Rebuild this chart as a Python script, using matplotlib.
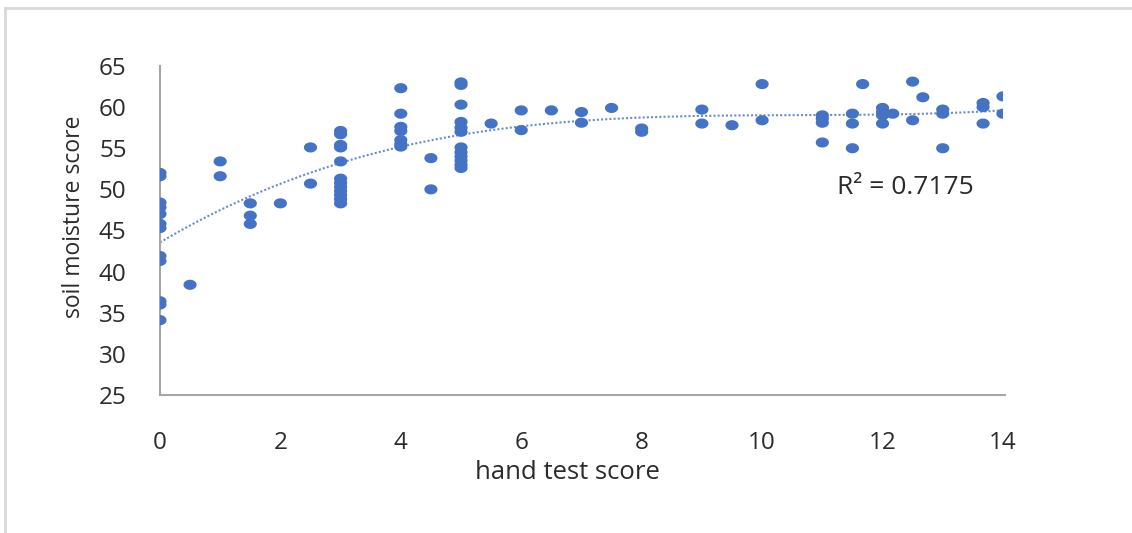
import matplotlib
matplotlib.use("Agg")
import matplotlib.pyplot as plt
import numpy as np
from matplotlib.lines import Line2D
from matplotlib.path import Path

# hand test score (x) and soil moisture score (y)
hand_score = (
    [0] * 12 + [0.5] + [1] * 2 + [1.5] * 3 + [2] + [2.5] * 2 + [3] * 12
    + [4] * 7 + [4.5] * 2 + [5] * 12 + [5.5] + [6] * 2 + [6.5] + [7] * 2
    + [7.5] + [8] * 2 + [9] * 2 + [9.5] + [10] * 2 + [11] * 4 + [11.5] * 3
    + [11.67] + [12] * 4 + [12.17] + [12.5] * 2 + [12.67] + [13] * 3
    + [13.67] * 3 + [14] * 2
)
soil_score = [
    52.0, 51.6, 48.4, 47.8, 47.0, 45.8, 45.3, 41.9, 41.3, 36.4, 36.0, 34.1,
    38.4,
    53.4, 51.6,
    48.3, 46.8, 45.8,
    48.3,
    55.1, 50.7,
    57.1, 56.7, 55.4, 55.1, 53.4, 51.3, 50.8, 50.3, 49.8, 49.3, 48.8, 48.3,
    62.3, 59.2, 57.6, 57.1, 56.0, 55.5, 55.2,
    53.8, 50.0,
    63.0, 62.7, 60.3, 58.2, 57.5, 57.0, 55.1, 54.5, 54.0, 53.5, 53.0, 52.6,
    58.0,
    59.6, 57.2,
    59.6,
    59.4, 58.1,
    59.9,
    57.4, 57.0,
    59.7, 58.0,
    57.8,
    62.8, 58.4,
    59.0, 58.6, 58.1, 55.7,
    59.2, 58.0, 55.0,
    62.8,
    59.9, 59.4, 59.0, 58.0,
    59.2,
    63.1, 58.4,
    61.2,
    59.7, 59.2, 55.0,
    60.5, 60.0, 58.0,
    61.3, 59.2,
]
x_ticks = [0, 2, 4, 6, 8, 10, 12, 14]
y_ticks = [25, 30, 35, 40, 45, 50, 55, 60, 65]
r2_label = "R² = 0.7175"

blue = "#4472C4"
txt = "#2b2b2b"
plt.rcParams['font.family'] = ['Open Sans', 'DejaVu Sans']

fig = plt.figure(figsize=(11.32, 5.33), dpi=100)
ax = fig.add_axes([0.1413, 0.2589, 0.7447, 0.6173])

# slightly wide ellipse marker, like the stretched original
t = np.linspace(0, 2 * np.pi, 40)
ellipse = Path(np.column_stack([1.3 * np.cos(t), np.sin(t)]), closed=True)
ax.scatter(hand_score, soil_score, marker=ellipse, s=90, color=blue,
           edgecolors='none', zorder=3)

# polynomial trendline (order 3)
coef = np.polyfit(hand_score, soil_score, 3)
xs = np.linspace(0, 14, 200)
ax.plot(xs, np.polyval(coef, xs), linestyle=(0, (1, 1)), color=blue,
        linewidth=1.5, alpha=0.8, zorder=2)

ax.set_xlim(0, 14)
ax.set_ylim(25, 65)
ax.set_xticks(x_ticks)
ax.set_yticks(y_ticks)
ax.tick_params(length=0, labelsize=17.5, labelcolor=txt)
ax.tick_params(axis='x', pad=26)
ax.tick_params(axis='y', pad=24)
for s in ['top', 'right']:
    ax.spines[s].set_visible(False)
for s in ['left', 'bottom']:
    ax.spines[s].set_color('#a6a6a6')
    ax.spines[s].set_linewidth(1.5)
ax.spines['bottom'].set_bounds(0, 14.03)

fig.text(0.501, 0.1144, "hand test score", ha='center', va='center',
         fontsize=18.5, color=txt)
fig.text(0.0654, 0.593, "soil moisture score", ha='center', va='center',
         rotation=90, fontsize=16.5, color=txt)
fig.text(0.8, 0.649, r2_label, ha='center', va='center',
         fontsize=19, color=txt)

# light frame at the top and left, as in the cropped source
fig.add_artist(Line2D([5 / 1132, 1], [1 - 8 / 533, 1 - 8 / 533],
                      color='#d9d9d9', linewidth=2))
fig.add_artist(Line2D([5 / 1132, 5 / 1132], [0, 1 - 8 / 533],
                      color='#d9d9d9', linewidth=2))

fig.savefig("out.png", dpi=100)
